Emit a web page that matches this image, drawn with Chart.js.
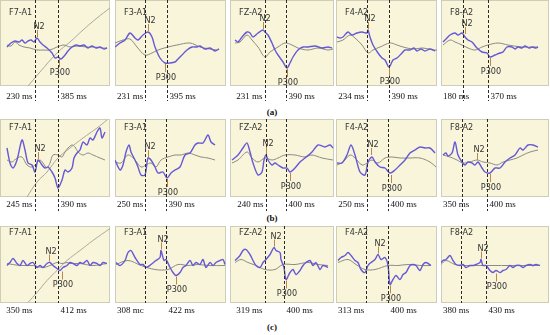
<!DOCTYPE html>
<html>
<head>
<title>N2 / P300 latencies</title>
<script src="https://cdn.jsdelivr.net/npm/chart.js@4.4.0/dist/chart.umd.min.js"></script>
<style>
body { margin: 0; background: #fff; }
#wrap { position: relative; width: 550px; height: 335px; overflow: hidden; }
#wrap canvas { position: absolute; }
.cap { position: absolute; font: bold 9px "Liberation Serif", "Times New Roman", serif; color: #111; transform: translate(-50%, -50%); }
</style>
</head>
<body>
<div id="wrap"></div>
<script>
// ---- data (x: panel units, y: signal units, up = positive) ----
var channels = ['F7-A1', 'F3-A1', 'FZ-A2', 'F4-A2', 'F8-A2'];
var captions = ['(a)', '(b)', '(c)'];

var n2Text = [['230 ms', '231 ms', '231 ms', '234 ms', '180 ms'],
              ['245 ms', '250 ms', '240 ms', '250 ms', '350 ms'],
              ['350 ms', '308 mc', '319 ms', '313 ms', '380 ms']];
var p300Text = [['385 ms', '395 ms', '390 ms', '390 ms', '370 ms'],
                ['390 ms', '390 ms', '400 ms', '400 ms', '400 ms'],
                ['412 ms', '422 ms', '400 ms', '400 ms', '430 ms']];

// where the dashed latency markers sit on each panel's time axis
var n2Line = [[35, 30, 35, 31, 22], [35, 30, 36, 31, 21], [35, 30, 35, 30, 20]];
var p300Line = [[58, 52, 56, 53, 47], [58, 51, 56, 52, 46], [58, 51, 54, 52, 45]];

// picked peaks (N2 positive, P300 trough)
var n2Peak = [[[37, 5], [33, 11], [33, 13], [32, 13], [24, 8]],
              [[38, -2], [33, 0], [36, 3], [35, 2], [36, -3]],
              [[49, 2], [46, 14], [44, 17], [42, 10], [40, 5]]];
var p300Peak = [[[59, -15], [50, -20], [57, -25], [53, -24], [49, -14]],
                [null, [52, -20], [60, -14], [55, -16], [49, -15]],
                [[62, -6], [61, -11], [56, -15], [54, -20], [55, -8]]];

// blue = target trace, gray = reference trace
var blueA = [
  [[7,-4],[11,0],[15,2],[19,1],[22,3],[25,0],[28,2],[31,3],[34,1],[37,5],[40,1],[43,-2],[47,-5],[52,-10],[55,-15],[58,-14],[61,-16],[65,-12],[68,-8],[72,-4],[76,-2],[80,-3],[84,-2],[88,-5],[92,-3],[96,-5],[100,-4],[104,-6],[107,-5]],
  [[0,-4],[5,0],[10,3],[15,10],[20,5],[23,3],[28,8],[33,11],[37,6],[40,-4],[45,-15],[50,-20],[55,-20],[60,-19],[63,-16],[67,-12],[72,-7],[77,-4],[82,-4],[85,-3],[90,-6],[95,-5],[100,-8],[104,-6]],
  [[5,3],[8,1],[12,6],[17,11],[20,10],[23,6],[28,10],[33,13],[35,11],[38,8],[42,0],[45,-7],[48,-12],[53,-19],[57,-25],[60,-20],[63,-14],[68,-7],[73,-4],[78,-4],[85,-3],[92,-5],[98,-4],[102,-5]],
  [[1,6],[4,5],[7,6],[12,11],[16,8],[21,10],[26,11],[31,10],[32,13],[34,6],[37,-2],[42,-10],[46,-15],[49,-17],[53,-24],[57,-17],[61,-15],[66,-10],[69,-7],[74,-7],[78,-5],[81,-8],[85,-6],[89,-8],[94,-6],[99,-8]],
  [[2,1],[6,5],[9,8],[14,10],[17,8],[21,10],[24,6],[27,3],[31,1],[36,-5],[41,-9],[46,-10],[49,-14],[54,-12],[59,-10],[62,-9],[66,-4],[71,-4],[74,-6],[77,-4],[81,-5],[84,-3],[88,-5],[91,-4],[95,-5],[97,-4]]
];
var grayA = [
  [[7,-2],[11,-3],[15,1],[19,-2],[24,-4],[30,-5],[37,-7],[44,-7],[50,-7],[57,-4],[64,-2],[70,-4],[78,-3],[86,-4],[94,-4],[102,-5],[107,-5]],
  [[0,0],[8,3],[15,4],[22,-4],[30,-12],[37,-10],[43,-7],[53,-4],[62,-2],[75,0],[85,-4],[95,-6],[102,-7]],
  [[5,0],[10,1],[17,8],[22,3],[28,-4],[35,-14],[40,-9],[48,-4],[55,0],[62,-2],[68,-5],[78,-7],[88,-5],[98,-7],[103,-6]],
  [[1,1],[7,3],[14,8],[19,5],[26,-2],[32,-10],[37,-7],[44,-4],[54,0],[61,-2],[67,-4],[77,-6],[87,-5],[97,-7],[101,-7]],
  [[2,-2],[9,3],[14,1],[21,-2],[27,-5],[34,-7],[41,-4],[47,-2],[57,0],[67,-2],[81,-4],[94,-4],[97,-4]]
];
var blueB = [
  [[7,10],[10,-5],[13,-10],[17,-2],[22,18],[25,8],[28,-5],[32,-7],[35,-14],[38,-2],[42,-7],[45,-10],[48,-9],[52,-14],[55,-20],[58,-30],[62,-22],[65,-12],[68,-14],[72,-10],[74,0],[77,5],[80,8],[83,16],[87,13],[90,20],[93,18],[97,26],[100,30],[102,20],[105,26]],
  [[0,-2],[5,-12],[8,-7],[11,6],[14,13],[16,6],[20,-2],[23,-9],[26,-17],[30,-17],[33,0],[36,-2],[40,-9],[43,-15],[48,-14],[52,-20],[56,-15],[60,-12],[65,-9],[70,3],[75,5],[80,13],[83,15],[88,15],[93,23],[96,16],[100,13]],
  [[2,-2],[8,3],[13,10],[17,15],[20,6],[23,-5],[28,-17],[32,-14],[34,-2],[36,3],[38,-2],[42,-7],[45,-5],[48,-7],[53,-10],[57,-10],[60,-14],[65,-10],[70,-4],[75,0],[82,6],[88,13],[95,11],[100,13],[103,10]],
  [[1,-5],[6,-5],[11,3],[15,13],[19,3],[24,-14],[29,-17],[32,-4],[36,1],[39,-4],[44,-9],[49,-10],[54,-15],[59,-12],[64,-7],[69,-2],[74,5],[79,8],[84,11],[89,10],[94,10],[99,5]],
  [[2,3],[5,5],[7,2],[11,5],[14,16],[17,3],[21,-4],[24,-7],[27,-4],[31,-5],[34,-7],[37,-4],[41,-10],[44,-14],[49,-15],[54,-10],[59,-10],[64,-4],[69,0],[74,3],[79,10],[82,8],[87,13],[92,13],[97,11]]
];
var grayB = [
  [[7,-2],[12,-4],[17,0],[22,1],[27,-7],[32,-9],[37,-5],[40,-2],[43,-5],[47,-10],[50,-5],[53,3],[58,3],[62,1],[65,6],[68,10],[72,13],[75,11],[78,6],[83,3],[88,5],[93,3],[100,0],[105,-2]],
  [[0,-4],[6,-5],[13,3],[20,-2],[26,-9],[31,-7],[36,-5],[41,-9],[46,-2],[53,1],[60,3],[66,3],[73,5],[80,3],[86,1],[93,0],[100,-2]],
  [[2,-5],[8,-2],[17,6],[22,0],[28,-4],[35,0],[42,-2],[48,0],[55,3],[65,3],[75,1],[82,3],[92,0],[103,-2]],
  [[1,-7],[7,-4],[14,3],[19,0],[26,-7],[31,-5],[36,-2],[42,-5],[49,0],[56,1],[64,0],[74,0],[84,0],[94,-4],[100,-9]],
  [[2,3],[9,1],[16,-2],[22,-5],[29,-4],[36,-2],[42,-4],[49,-5],[56,-7],[62,-4],[69,-2],[76,0],[82,3],[89,6],[97,8]]
];
var blueC = [
  [[7,-1],[10,2],[13,6],[17,1],[20,-1],[23,4],[27,-1],[30,1],[33,2],[37,-3],[40,-1],[43,-3],[47,1],[50,2],[53,-1],[57,-4],[60,-6],[63,-3],[67,-1],[70,2],[73,1],[77,-1],[80,2],[83,1],[87,4],[90,-1],[93,2],[97,1],[100,-1],[103,2],[107,1]],
  [[1,2],[5,-1],[10,4],[13,12],[16,14],[20,7],[25,0],[28,0],[31,-3],[36,0],[41,4],[45,7],[46,14],[49,4],[51,5],[55,-3],[58,-8],[61,-11],[65,-8],[68,-3],[71,-1],[75,4],[78,-1],[81,2],[85,0],[88,5],[91,-3],[95,2],[98,-1],[101,2],[105,4],[108,5],[110,0]],
  [[5,4],[10,9],[13,14],[16,15],[20,10],[23,4],[26,-1],[30,-3],[33,2],[36,5],[40,10],[44,17],[46,14],[50,12],[51,5],[54,-3],[56,-15],[60,-8],[63,-5],[66,-10],[70,-6],[73,-1],[76,2],[80,4],[83,-1],[86,2],[90,-5],[93,-1],[98,-3]],
  [[2,4],[5,7],[9,9],[12,12],[15,9],[19,4],[22,2],[25,-5],[29,-8],[32,-1],[35,2],[39,5],[42,10],[45,5],[49,7],[52,-1],[54,-20],[57,-15],[60,-11],[64,-15],[67,-10],[70,-8],[74,-1],[77,0],[80,-1],[84,-6],[87,0],[90,2],[95,-1]],
  [[0,2],[2,4],[5,5],[9,9],[12,4],[15,0],[19,-1],[22,0],[25,-3],[29,-1],[32,-1],[35,0],[39,2],[40,5],[42,-1],[45,-1],[49,-6],[52,-8],[55,-6],[59,-8],[62,-6],[65,-5],[69,-1],[72,-3],[75,-1],[79,-1],[82,-3],[85,-1],[89,0],[92,-1],[95,0],[99,-1]]
];
var grayC = [
  [[7,1],[20,-1],[33,-1],[43,-3],[50,-1],[57,2],[62,1],[67,2],[70,1],[80,1],[93,-1],[107,1]],
  [[1,0],[13,4],[26,-1],[40,-5],[53,-5],[63,0],[73,-1],[83,0],[93,-1],[110,-1]],
  [[5,2],[11,5],[18,2],[26,-1],[35,-5],[45,-5],[53,0],[65,0],[78,2],[88,0],[98,-1]],
  [[2,2],[12,5],[20,0],[29,-5],[39,-5],[52,-1],[62,-1],[72,0],[85,-1],[95,-1]],
  [[0,0],[5,4],[14,0],[24,-1],[34,-1],[44,-1],[54,-1],[67,-1],[84,-1],[99,-1]]
];
// thin gray trend curve drawn over the F7-A1 panels
var trendCurve = [
  [[28,-43],[40,-29],[57,-10],[70,1],[83,13],[97,25],[110,35]],
  [[27,-39],[37,-24],[47,-14],[58,0],[70,10],[83,20],[97,30],[107,38]],
  [[28,-38],[37,-28],[47,-16],[57,-6],[67,4],[80,14],[93,24],[110,36]]
];

var blueRows = [blueA, blueB, blueC];
var grayRows = [grayA, grayB, grayC];

// ---- layout ----
var colLeft = [0, 115, 230, 336, 441];
var colWidth = [110, 111, 104, 101, 108];
var rowTop = [0, 119, 226];
var rowHeight = [86, 78, 77];
var canvasHeight = [104, 94, 92];
var msLabelY = [97, 86, 85];
var dashBottom = [101, 92, 77];
var channelY = [13, 9, 7];
var captionY = [112, 218, 327];

var narrow = '9px "Liberation Sans Narrow", "DejaVu Sans Condensed", "Arial Narrow", sans-serif';

function toXY(list) {
  return list.map(function (p) { return { x: p[0], y: p[1] }; });
}

var eegMarks = {
  id: 'eegMarks',
  beforeDatasetsDraw: function (chart) {
    var a = chart.chartArea, ctx = chart.ctx;
    ctx.save();
    ctx.fillStyle = '#f8f5da';
    ctx.fillRect(a.left, a.top, a.right - a.left, a.bottom - a.top);
    ctx.strokeStyle = '#cfccb8';
    ctx.lineWidth = 1;
    ctx.strokeRect(a.left + 0.5, a.top + 0.5, a.right - a.left - 1, a.bottom - a.top - 1);
    ctx.restore();
  },
  afterDatasetsDraw: function (chart) {
    var o = chart.options.plugins.eegMarks, r = o.row, c = o.col;
    var xs = chart.scales.x, ys = chart.scales.y, ctx = chart.ctx, a = chart.chartArea;
    ctx.save();

    // latency markers
    ctx.setLineDash([3, 2]);
    ctx.strokeStyle = '#2a2a2a';
    ctx.lineWidth = 1;
    var n2x = Math.round(xs.getPixelForValue(n2Line[r][c])) + 0.5;
    var p3x = Math.round(xs.getPixelForValue(p300Line[r][c])) + 0.5;
    [n2x, p3x].forEach(function (px) {
      ctx.beginPath();
      ctx.moveTo(px, a.top);
      ctx.lineTo(px, dashBottom[r]);
      ctx.stroke();
    });
    ctx.setLineDash([]);

    // peak ticks + labels
    ctx.strokeStyle = '#b9874a';
    ctx.fillStyle = '#333';
    ctx.font = narrow;
    ctx.textAlign = 'center';
    var pk = n2Peak[r][c];
    if (pk) {
      var x = xs.getPixelForValue(pk[0]), y = ys.getPixelForValue(pk[1]);
      ctx.beginPath(); ctx.moveTo(x + 0.5, y - 1); ctx.lineTo(x + 0.5, y - 8); ctx.stroke();
      ctx.textBaseline = 'alphabetic';
      ctx.fillText('N2', x + 2, y - 9);
    }
    pk = p300Peak[r][c];
    if (pk) {
      var x2 = xs.getPixelForValue(pk[0]), y2 = ys.getPixelForValue(pk[1]);
      ctx.beginPath(); ctx.moveTo(x2 + 0.5, y2 + 1); ctx.lineTo(x2 + 0.5, y2 + 9); ctx.stroke();
      ctx.textBaseline = 'top';
      ctx.fillText('P300', x2 + 1, y2 + 10);
    }

    // channel name
    ctx.textAlign = 'left';
    ctx.textBaseline = 'middle';
    ctx.fillText(channels[c], a.left + 9, a.top + channelY[r]);

    // latency values under the panel
    ctx.font = '9px "Liberation Serif", "Times New Roman", serif';
    ctx.fillStyle = '#111';
    var t1 = n2Text[r][c];
    var w1 = ctx.measureText(t1).width;
    var lx = Math.max(a.left + 2, n2x - 3 - w1);
    ctx.fillText(t1, lx, msLabelY[r]);
    ctx.fillText(p300Text[r][c], p3x + 2, msLabelY[r]);
    ctx.restore();
  }
};

var wrap = document.getElementById('wrap');

for (var r = 0; r < 3; r++) {
  for (var c = 0; c < 5; c++) {
    var cv = document.createElement('canvas');
    cv.width = colWidth[c];
    cv.height = canvasHeight[r];
    cv.style.left = colLeft[c] + 'px';
    cv.style.top = rowTop[r] + 'px';
    cv.style.width = colWidth[c] + 'px';
    cv.style.height = canvasHeight[r] + 'px';
    wrap.appendChild(cv);

    var sets = [
      { data: toXY(blueRows[r][c]), borderColor: '#6658d6', borderWidth: 1.4, tension: 0.3, order: 0 },
      { data: toXY(grayRows[r][c]), borderColor: '#8c8c82', borderWidth: 1, tension: 0.35, order: 1 }
    ];
    if (c === 0) {
      sets.push({ data: toXY(trendCurve[r]), borderColor: '#a9a9a0', borderWidth: 1, tension: 0.4, order: 2 });
    }

    new Chart(cv, {
      type: 'line',
      data: { datasets: sets },
      options: {
        responsive: false,
        animation: false,
        events: [],
        layout: { padding: { left: 0, right: 0, top: 0, bottom: canvasHeight[r] - rowHeight[r] } },
        elements: { point: { radius: 0 } },
        scales: {
          x: { type: 'linear', min: 0, max: colWidth[c], display: false },
          y: { type: 'linear', min: -rowHeight[r] / 2, max: rowHeight[r] / 2, display: false }
        },
        plugins: {
          legend: { display: false },
          tooltip: { enabled: false },
          eegMarks: { row: r, col: c }
        }
      },
      plugins: [eegMarks]
    });
  }
  var cap = document.createElement('div');
  cap.className = 'cap';
  cap.textContent = captions[r];
  cap.style.left = '272px';
  cap.style.top = captionY[r] + 'px';
  wrap.appendChild(cap);
}
</script>
</body>
</html>
